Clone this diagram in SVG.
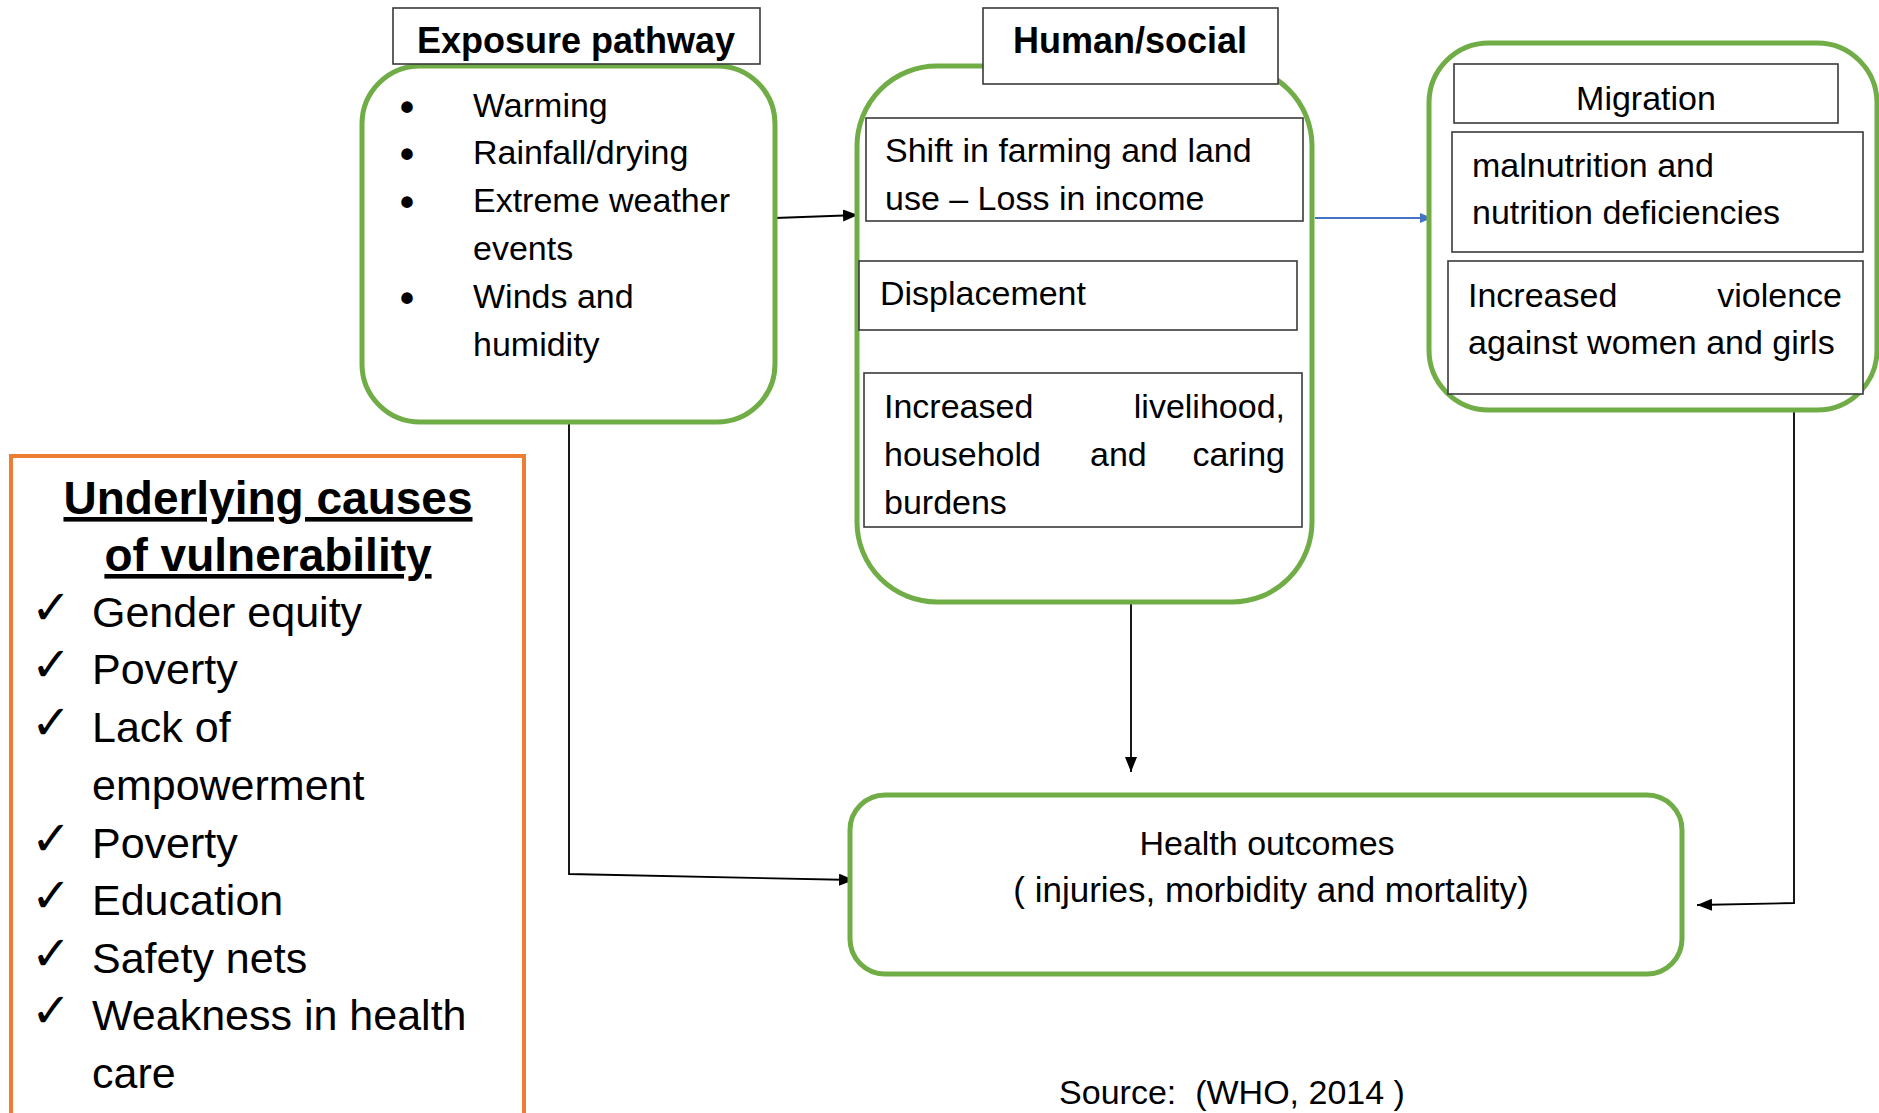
<svg xmlns="http://www.w3.org/2000/svg" width="1879" height="1113" viewBox="0 0 1879 1113">
<style>
  .t { font-family: "Liberation Sans", Arial, sans-serif; font-size: 34px; fill: #000; }
  .b { font-family: "Liberation Sans", Arial, sans-serif; font-size: 36px; font-weight: bold; fill: #000; }
  .green { fill: #fff; stroke: #70AD47; stroke-width: 5; }
  .box { fill: #fff; stroke: #3a3a3a; stroke-width: 1.6; }
  .li { font-family: "Liberation Sans", Arial, sans-serif; font-size: 43px; fill: #000; }
  .chk { font-family: "DejaVu Sans", sans-serif; font-size: 48px; fill: #000; }
  .bul { font-family: "Liberation Sans", Arial, sans-serif; font-size: 40px; font-weight: bold; fill: #000; }
  .conn { fill: none; stroke: #000; stroke-width: 1.8; }
</style>
<defs>
  <marker id="arrow" viewBox="0 0 15 12" refX="15" refY="6" markerWidth="15" markerHeight="12" markerUnits="userSpaceOnUse" orient="auto">
    <path d="M0,0 L15,6 L0,12 z" fill="#000"/>
  </marker>
  <marker id="arrowBlue" viewBox="0 0 12 10" refX="12" refY="5" markerWidth="12" markerHeight="10" markerUnits="userSpaceOnUse" orient="auto">
    <path d="M0,0 L12,5 L0,10 z" fill="#4472C4"/>
  </marker>
</defs>
<rect width="1879" height="1113" fill="#fff"/>

<g id="connectors">
  <path class="conn" d="M775,218 L858,215" marker-end="url(#arrow)"/>
  <path class="conn" d="M569,422 L569,874 L854,880" marker-end="url(#arrow)"/>
  <path class="conn" d="M1131,598 L1131,772" marker-end="url(#arrow)"/>
  <path class="conn" d="M1315,218 L1432,218" style="stroke:#4472C4" marker-end="url(#arrowBlue)"/>
  <path class="conn" d="M1794,412 L1794,903 L1697,905" marker-end="url(#arrow)"/>
</g>

<g id="exposure">
  <rect class="green" x="362" y="66" width="413" height="356" rx="58" ry="58"/>
  <rect class="box" x="393" y="8" width="367" height="56"/>
  <text class="b" x="576" y="53" text-anchor="middle">Exposure pathway</text>
  <text class="bul" x="400" y="121">•</text>
  <text class="bul" x="400" y="168">•</text>
  <text class="bul" x="400" y="216">•</text>
  <text class="bul" x="400" y="312">•</text>
  <text class="t" x="473" y="117">Warming</text>
  <text class="t" x="473" y="164">Rainfall/drying</text>
  <text class="t" x="473" y="212">Extreme weather</text>
  <text class="t" x="473" y="260">events</text>
  <text class="t" x="473" y="308">Winds and</text>
  <text class="t" x="473" y="356">humidity</text>
</g>

<g id="human-social">
  <rect class="green" x="857" y="66" width="455" height="536" rx="80" ry="80"/>
  <rect class="box" x="983" y="8" width="295" height="76"/>
  <text class="b" x="1130" y="53" text-anchor="middle">Human/social</text>
  <g id="shift">
    <rect class="box" x="866" y="118" width="437" height="103"/>
    <text class="t" x="885" y="162">Shift in farming and land</text>
    <text class="t" x="885" y="210">use – Loss in income</text>
  </g>
  <g id="displacement">
    <rect class="box" x="859" y="261" width="438" height="69"/>
    <text class="t" x="880" y="305">Displacement</text>
  </g>
  <g id="burdens">
    <rect class="box" x="864" y="373" width="438" height="154"/>
    <text class="t" x="884" y="418">Increased</text>
    <text class="t" x="1285" y="418" text-anchor="end">livelihood,</text>
    <text class="t" x="884" y="466">household</text>
    <text class="t" x="1090" y="466">and</text>
    <text class="t" x="1285" y="466" text-anchor="end">caring</text>
    <text class="t" x="884" y="514">burdens</text>
  </g>
</g>

<g id="migration">
  <rect class="green" x="1429" y="43" width="448" height="367" rx="60" ry="60"/>
  <rect class="box" x="1454" y="64" width="384" height="59"/>
  <text class="t" x="1646" y="110" text-anchor="middle">Migration</text>
  <g id="malnutrition">
    <rect class="box" x="1452" y="132" width="411" height="120"/>
    <text class="t" x="1472" y="177">malnutrition and</text>
    <text class="t" x="1472" y="224">nutrition deficiencies</text>
  </g>
  <g id="violence">
    <rect class="box" x="1448" y="261" width="415" height="133"/>
    <text class="t" x="1468" y="307">Increased</text>
    <text class="t" x="1842" y="307" text-anchor="end">violence</text>
    <text class="t" x="1468" y="354">against women and girls</text>
  </g>
</g>

<g id="health-outcomes">
  <rect class="green" x="850" y="795" width="832" height="179" rx="35" ry="35"/>
  <text class="t" x="1267" y="855" text-anchor="middle">Health outcomes</text>
  <text class="t" x="1271" y="902" text-anchor="middle" style="font-size:35px">( injuries, morbidity and mortality)</text>
</g>

<g id="underlying-causes">
  <rect x="11" y="456" width="513" height="700" fill="#fff" stroke="#ED7D31" stroke-width="4"/>
  <text class="b" x="268" y="514" text-anchor="middle" style="font-size:46px" text-decoration="underline">Underlying causes</text>
  <text class="b" x="268" y="571" text-anchor="middle" style="font-size:46px" text-decoration="underline">of vulnerability</text>
  <text class="chk" x="31" y="624">✓</text>
  <text class="chk" x="31" y="681">✓</text>
  <text class="chk" x="31" y="739">✓</text>
  <text class="chk" x="31" y="855">✓</text>
  <text class="chk" x="31" y="912">✓</text>
  <text class="chk" x="31" y="970">✓</text>
  <text class="chk" x="31" y="1027">✓</text>
  <text class="li" x="92" y="627">Gender equity</text>
  <text class="li" x="92" y="684">Poverty</text>
  <text class="li" x="92" y="742">Lack of</text>
  <text class="li" x="92" y="800">empowerment</text>
  <text class="li" x="92" y="858">Poverty</text>
  <text class="li" x="92" y="915">Education</text>
  <text class="li" x="92" y="973">Safety nets</text>
  <text class="li" x="92" y="1030">Weakness in health</text>
  <text class="li" x="92" y="1088">care</text>
</g>

<text id="source" class="t" x="1232" y="1104" text-anchor="middle" style="white-space:pre">Source:  (WHO, 2014 )</text>
</svg>
